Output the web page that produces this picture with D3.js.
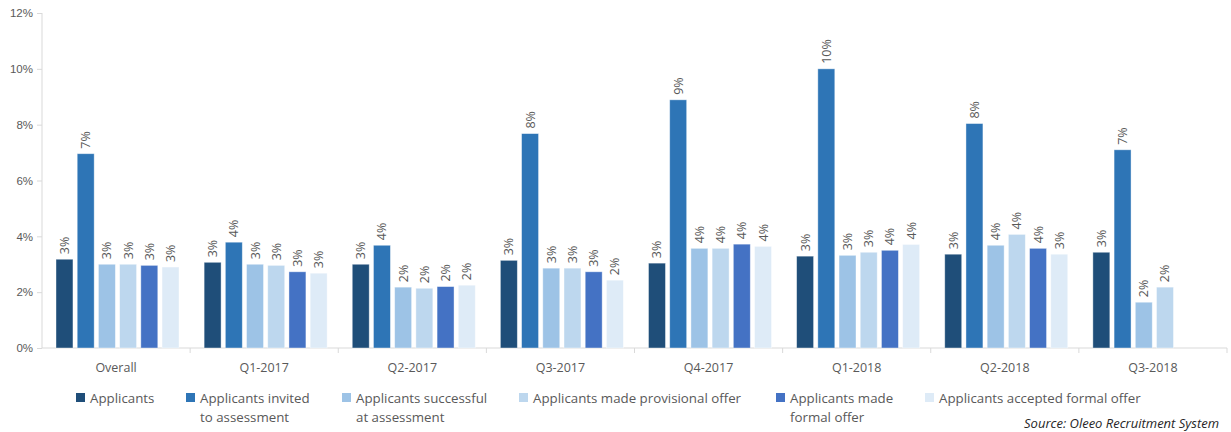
<!DOCTYPE html>
<html>
<head>
<meta charset="utf-8">
<script src="https://cdn.jsdelivr.net/npm/d3@7"></script>
<style>
  body { margin: 0; background: #fff; }
  svg { font-family: 'Open Sans', sans-serif; }
  .axis text { fill: #595959; }
  .axis line, .axis path { stroke: #d9d9d9; }
</style>
</head>
<body>
<svg id="chart" width="1231" height="432"></svg>
<script>
const categories = ['Overall', 'Q1-2017', 'Q2-2017', 'Q3-2017', 'Q4-2017', 'Q1-2018', 'Q2-2018', 'Q3-2018'];
const seriesNames = [
  'Applicants',
  'Applicants invited to assessment',
  'Applicants successful at assessment',
  'Applicants made provisional offer',
  'Applicants made formal offer',
  'Applicants accepted formal offer'
];
// percentages, one array per series (null = no bar)
const applicants   = [3.18, 3.07, 3.00, 3.14, 3.04, 3.29, 3.36, 3.43];
const invited      = [6.96, 3.79, 3.68, 7.68, 8.89, 10.0, 8.04, 7.10];
const successful   = [3.00, 3.00, 2.18, 2.86, 3.57, 3.32, 3.68, 1.64];
const provisional  = [3.00, 2.96, 2.14, 2.86, 3.57, 3.43, 4.07, 2.18];
const formalOffer  = [2.96, 2.73, 2.20, 2.73, 3.72, 3.50, 3.57, null];
const accepted     = [2.90, 2.68, 2.25, 2.43, 3.64, 3.71, 3.36, null];
const yTicks = [0, 2, 4, 6, 8, 10, 12];

const seriesValues = [applicants, invited, successful, provisional, formalOffer, accepted];
const colors = ['#1f4e79', '#2e75b6', '#9dc3e6', '#bdd7ee', '#4472c4', '#deebf7'];
const legendLines = [
  ['Applicants'],
  ['Applicants invited', 'to assessment'],
  ['Applicants successful', 'at assessment'],
  ['Applicants made provisional offer'],
  ['Applicants made', 'formal offer'],
  ['Applicants accepted formal offer']
];
const legendX = [76, 186, 342, 519, 776, 925];

const svg = d3.select('#chart');
const margin = { left: 42, top: 13 };
const plotRight = 1227, plotBottom = 348;

const x0 = d3.scaleBand()
  .domain(categories)
  .range([margin.left, plotRight])
  .padding(0);

const x1 = d3.scaleBand()
  .domain(seriesNames)
  .range([14, 137])
  .paddingInner(0.2)
  .paddingOuter(0);

const y = d3.scaleLinear()
  .domain([0, 12])
  .range([plotBottom, margin.top]);

// y axis
const yAxis = svg.append('g')
  .attr('class', 'axis')
  .attr('transform', `translate(${margin.left},0)`)
  .call(d3.axisLeft(y).tickValues(yTicks).tickSize(5).tickPadding(4).tickFormat(d => d + '%'));
yAxis.select('.domain').attr('d', `M0,${y(12)}V${y(0)}`);
yAxis.selectAll('text').attr('font-size', 11.5);

// x axis with tick marks between categories
const xAxis = svg.append('g')
  .attr('class', 'axis')
  .attr('transform', `translate(0,${plotBottom})`);
xAxis.append('line')
  .attr('x1', margin.left).attr('x2', plotRight)
  .attr('y1', 0).attr('y2', 0);
xAxis.selectAll('line.sep')
  .data(categories)
  .enter().append('line')
  .attr('class', 'sep')
  .attr('x1', d => x0(d) + x0.bandwidth())
  .attr('x2', d => x0(d) + x0.bandwidth())
  .attr('y1', 0).attr('y2', 5);
xAxis.selectAll('text')
  .data(categories)
  .enter().append('text')
  .attr('x', d => x0(d) + x0.bandwidth() / 2)
  .attr('y', 24)
  .attr('text-anchor', 'middle')
  .attr('font-size', 12.5)
  .text(d => d);

// bars
const rows = [];
categories.forEach((c, ci) => {
  seriesNames.forEach((s, si) => {
    const v = seriesValues[si][ci];
    if (v != null) rows.push({ cat: c, series: s, si, v });
  });
});

const bars = svg.append('g');
bars.selectAll('rect')
  .data(rows)
  .enter().append('rect')
  .attr('x', d => x0(d.cat) + x1(d.series))
  .attr('y', d => y(d.v))
  .attr('width', x1.bandwidth())
  .attr('height', d => y(0) - y(d.v))
  .attr('fill', d => colors[d.si])
  .attr('stroke', '#fff')
  .attr('stroke-opacity', 0.5)
  .attr('stroke-width', 0.8);

bars.selectAll('text')
  .data(rows)
  .enter().append('text')
  .attr('transform', d => `translate(${x0(d.cat) + x1(d.series) + x1.bandwidth() / 2 + 4.5},${y(d.v) - 5}) rotate(-90)`)
  .attr('font-size', 12.5)
  .attr('fill', '#595959')
  .text(d => Math.round(d.v) + '%');

// legend
const legend = svg.append('g');
const items = legend.selectAll('g')
  .data(seriesNames)
  .enter().append('g')
  .attr('transform', (d, i) => `translate(${legendX[i]},393)`);
items.append('rect')
  .attr('width', 9).attr('height', 9)
  .attr('fill', (d, i) => colors[i]);
items.each(function (d, i) {
  const t = d3.select(this).append('text')
    .attr('x', 14)
    .attr('y', 10)
    .attr('font-size', 13.3)
    .attr('fill', '#595959');
  legendLines[i].forEach((line, li) => {
    t.append('tspan').attr('x', 14).attr('dy', li === 0 ? 0 : 19).text(line);
  });
});

svg.append('text')
  .attr('x', 1219)
  .attr('y', 428)
  .attr('text-anchor', 'end')
  .attr('font-size', 13)
  .attr('font-style', 'italic')
  .attr('fill', '#262626')
  .text('Source: Oleeo Recruitment System');
</script>
</body>
</html>
